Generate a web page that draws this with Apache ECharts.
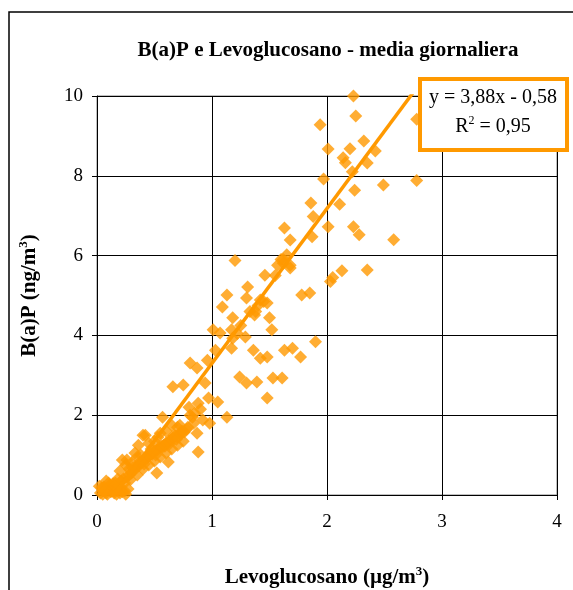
<!DOCTYPE html>
<html>
<head>
<meta charset="utf-8">
<script src="https://cdn.jsdelivr.net/npm/echarts@6/dist/echarts.min.js"></script>
<style>
html,body{margin:0;padding:0;background:#fff;}
#chart{width:573px;height:590px;}
</style>
</head>
<body>
<div id="chart"></div>
<script>
// Levoglucosano (µg/m³) values
const levo = [
  2.23,2.25,1.94,2.78,2.01,2.32,2.20,2.42,2.14,2.16,2.35,2.22,1.97,2.49,2.24,2.78,1.86,2.11,1.88,
  1.63,1.68,1.87,2.01,2.23,2.28,2.58,1.62,1.68,2.03,2.05,2.13,2.35,1.78,1.85,
  1.20,1.13,1.09,1.31,1.30,1.18,1.46,1.42,1.48,1.37,1.50,1.52,1.57,1.65,1.62,1.68,1.60,
  1.01,1.07,1.17,1.18,1.29,1.03,1.17,1.36,1.42,1.48,1.63,1.70,1.77,1.90,
  0.81,0.87,0.96,1.24,1.30,1.39,1.53,1.61,1.48,0.66,0.75,0.94,0.97,1.05,1.13,0.83,0.92,0.98,
  0.57,0.70,0.42,0.36,0.88,0.62,0.52,0.26,
  1.40,1.45,1.38,1.25,1.33,1.55,1.22,
  0.80,0.85,0.88,0.90,0.72,0.84,0.81,0.87,0.40,0.22,
  0.05,0.06,0.08,0.10,0.12,0.14,0.03,0.04,0.07,0.09,0.11,0.13,0.15,0.16,0.18,0.20,0.22,0.24,0.25,0.17,0.19,0.21,0.23,0.26,0.28,0.02,0.05,0.27,
  0.30,0.32,0.34,0.36,0.38,0.40,0.42,0.44,0.46,0.48,0.50,0.52,0.54,0.56,0.58,0.60,0.62,0.64,0.66,0.68,0.70,0.72,0.74,0.76,0.78,
  0.20,0.25,0.30,0.35,0.33,0.45,0.50,0.55,0.60,0.65,0.47,0.28,0.38,0.53,
  0.29,0.35,0.40,0.45,0.50,0.55,0.60,0.65,0.70,0.75,
  0.31,0.37,0.43,0.49,0.57,0.63,0.69,0.73,0.79,0.41,0.51,0.59,0.67,0.24,0.18,0.14,0.10,0.08
];
// B(a)P (ng/m³) values
const bap = [
  10.0,9.50,9.28,9.42,8.67,8.87,8.68,8.62,8.45,8.33,8.32,8.10,7.92,7.77,7.64,7.88,7.32,7.29,6.98,
  6.69,6.39,6.47,6.72,6.72,6.52,6.40,5.90,5.76,5.35,5.45,5.62,5.64,5.01,5.06,
  5.88,5.01,4.71,5.21,4.94,4.44,5.51,4.89,4.81,4.51,4.44,4.14,5.76,6.02,5.81,5.69,5.90,
  4.14,4.06,4.14,3.93,3.96,3.63,3.68,3.63,3.43,3.46,3.63,3.68,3.46,3.84,
  3.31,3.18,3.38,2.96,2.81,2.83,2.93,2.93,2.43,2.71,2.76,2.81,2.43,2.33,1.95,1.95,1.88,1.80,
  1.95,1.70,1.50,1.25,1.08,0.83,0.55,0.88,
  4.75,4.85,4.60,4.25,4.60,5.50,4.05,
  2.20,2.05,2.30,2.15,1.75,1.80,2.00,1.55,1.50,0.88,
  0.10,0.20,0.05,0.15,0.08,0.20,0.05,0.18,0.12,0.02,0.25,0.10,0.05,0.30,0.12,0.05,0.08,0.10,0.02,0.02,0.22,0.35,0.40,0.45,0.50,0.22,0.02,0.15,
  0.55,0.62,0.70,0.72,0.80,0.85,0.90,0.95,1.00,1.02,1.10,1.12,1.18,1.22,1.25,1.30,1.35,1.38,1.42,1.48,1.45,1.55,1.60,1.58,1.65,
  0.60,0.75,0.80,0.95,1.05,1.30,1.35,1.55,1.60,1.75,1.15,0.65,1.00,1.45,
  0.38,0.50,0.65,0.75,0.85,0.95,1.05,1.15,1.25,1.35,
  0.68,0.82,0.92,1.08,1.20,1.28,1.40,1.52,1.70,0.78,1.00,1.22,1.50,0.30,0.40,0.28,0.30,0.35
];
// Linear trend shown on the chart: y = 3,88x - 0,58
const trendSlope = 3.88;
const trendIntercept = -0.58;
const trendRange = [0.02, 2.78];
const xTicks = [0, 1, 2, 3, 4];
const yTicks = [0, 2, 4, 6, 8, 10];

const points = levo.map((x, i) => [x, bap[i]]);
const trend = trendRange.map(x => [x, trendSlope * x + trendIntercept]);

const orange = '#FF9900';
const serif = '"Liberation Serif","Times New Roman",serif';
const supStyle = {fontFamily: serif, fontWeight: 'bold', fontSize: 13, verticalAlign: 'top', padding: [0,0,12,0], color: '#000'};

const chart = echarts.init(document.getElementById('chart'));
chart.setOption({
  animation: false,
  backgroundColor: '#fff',
  title: {
    text: 'B(a)P e Levoglucosano - media giornaliera',
    left: 323, textAlign: 'center', top: 35,
    textStyle: {fontFamily: serif, fontWeight: 'bold', fontSize: 21, color: '#000'}
  },
  grid: {left: 97, top: 96, width: 460, height: 399, show: true, borderColor: '#808080', borderWidth: 1,
    outerBoundsMode: 'none', containLabel: false},
  xAxis: {
    type: 'value', min: xTicks[0], max: xTicks[xTicks.length-1], interval: 1,
    name: 'Levoglucosano (µg/m{sup|3})', nameLocation: 'middle', nameGap: 70,
    nameTextStyle: {fontFamily: serif, fontWeight: 'bold', fontSize: 21, color: '#000', rich: {sup: supStyle}},
    axisLine: {show: true, onZero: false, lineStyle: {color: '#000', width: 1}},
    axisTick: {show: true, length: 5, lineStyle: {color: '#000'}},
    axisLabel: {fontFamily: serif, fontSize: 19, color: '#000', margin: 18},
    splitLine: {show: true, lineStyle: {color: '#000', width: 1}}
  },
  yAxis: {
    type: 'value', min: yTicks[0], max: yTicks[yTicks.length-1], interval: 2,
    name: 'B(a)P (ng/m{sup|3})', nameLocation: 'middle', nameGap: 55, nameRotate: 90,
    nameTextStyle: {fontFamily: serif, fontWeight: 'bold', fontSize: 21, color: '#000', rich: {sup: supStyle}},
    axisLine: {show: true, onZero: false, lineStyle: {color: '#000', width: 1}},
    axisTick: {show: true, length: 5, lineStyle: {color: '#000'}},
    axisLabel: {fontFamily: serif, fontSize: 19, color: '#000', margin: 14},
    splitLine: {show: true, lineStyle: {color: '#000', width: 1}}
  },
  series: [
    {
      type: 'scatter', data: points, symbol: 'diamond', symbolSize: 13,
      itemStyle: {color: orange}, z: 3
    },
    {
      type: 'line', data: trend, showSymbol: false, symbol: 'none', clip: true,
      lineStyle: {color: orange, width: 3.5}, z: 4
    }
  ],
  graphic: [
    {type: 'rect', shape: {x: 9, y: 12, width: 600, height: 620}, style: {fill: 'none', stroke: '#000', lineWidth: 1.5}, z: 0, silent: true},
    {type: 'rect', shape: {x: 420, y: 79, width: 147, height: 71}, style: {fill: '#fff', stroke: orange, lineWidth: 4}, z: 10},
    {type: 'text', x: 493, y: 98, z: 11,
      style: {text: 'y = 3,88x - 0,58', fontFamily: serif, fontSize: 20, fill: '#000', align: 'center', verticalAlign: 'middle'}},
    {type: 'text', x: 493, y: 127, z: 11,
      style: {text: 'R{sup|2} = 0,95', fontFamily: serif, fontSize: 20, fill: '#000', align: 'center', verticalAlign: 'middle',
        rich: {sup: {fontFamily: serif, fontSize: 12, verticalAlign: 'top', padding: [0,0,12,0], fill: '#000'}}}}
  ]
});
</script>
</body>
</html>
